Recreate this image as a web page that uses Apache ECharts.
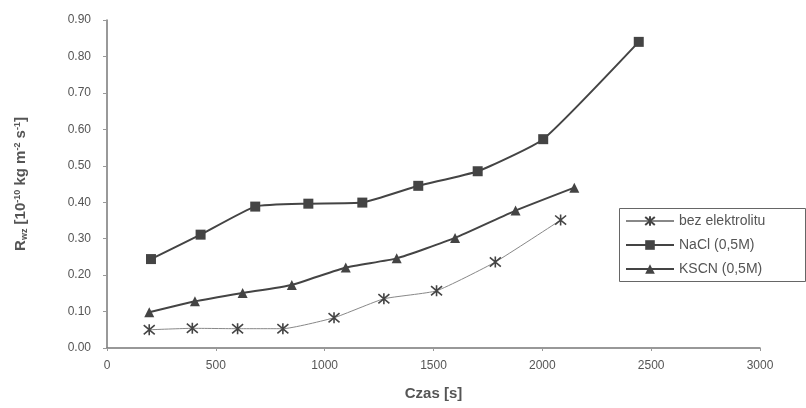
<!DOCTYPE html>
<html>
<head>
<meta charset="utf-8">
<script src="https://cdn.jsdelivr.net/npm/echarts@6/dist/echarts.min.js"></script>
<style>
  html, body { margin: 0; padding: 0; background: #fff; }
  #chart { width: 806px; height: 408px; }
</style>
</head>
<body>
<div id="chart"></div>
<script>
// dane: czas [s] i szybkość
var bezX = [194, 392, 600, 808, 1043, 1272, 1514, 1784, 2084];
var bezY = [0.050, 0.054, 0.053, 0.053, 0.083, 0.135, 0.157, 0.236, 0.351];

var naclX = [202, 430, 681, 925, 1173, 1430, 1703, 2004, 2443];
var naclY = [0.244, 0.311, 0.388, 0.396, 0.399, 0.445, 0.485, 0.573, 0.840];

var kscnX = [194, 404, 623, 849, 1097, 1331, 1599, 1877, 2147];
var kscnY = [0.098, 0.128, 0.151, 0.173, 0.221, 0.246, 0.302, 0.377, 0.440];

var seriesNames = ["bez elektrolitu", "NaCl (0,5M)", "KSCN (0,5M)"];

function pairs(xs, ys) {
  return xs.map(function (x, i) { return [x, ys[i]]; });
}

var txt = "#555";
var font = "'Liberation Sans', Arial, sans-serif";
// gwiazdka jak w Excelu
var asterisk = "path://M0,0 L10,10 M10,0 L0,10 M5,-1 L5,11";

var chart = echarts.init(document.getElementById("chart"));

var option = {
  backgroundColor: "#fff",
  animation: false,
  textStyle: { fontFamily: font },
  grid: { left: 107, right: 46, top: 20, bottom: 60 },
  graphic: [
    {
      type: "rect",
      shape: { x: 619.5, y: 208.5, width: 186, height: 73 },
      style: { fill: "#fff", stroke: "#666", lineWidth: 1 },
      z: 5,
    },
  ],
  legend: {
    orient: "vertical",
    left: 620,
    top: 209,
    itemWidth: 48,
    itemHeight: 12,
    itemGap: 10,
    z: 10,
    data: seriesNames,
    textStyle: { color: txt, fontSize: 14, fontFamily: font },
  },
  xAxis: {
    type: "value",
    min: 0,
    max: 3000,
    interval: 500,
    name: "Czas [s]",
    nameLocation: "middle",
    nameGap: 38,
    nameTextStyle: { color: txt, fontSize: 15, fontWeight: "bold" },
    axisLine: { lineStyle: { color: "#777", width: 1.5 } },
    axisTick: { length: 3, lineStyle: { color: "#999" } },
    axisLabel: {
      color: txt,
      fontSize: 12,
      margin: 12,
      formatter: function (v) { return String(v); },
    },
    splitLine: { show: false },
  },
  yAxis: {
    type: "value",
    min: 0,
    max: 0.9,
    interval: 0.1,
    name: "{b|R}{sub|wz}{b| [10}{sup|-10}{b| kg m}{sup|-2}{b| s}{sup|-1}{b|]}",
    nameLocation: "middle",
    nameRotate: 90,
    nameGap: 78,
    nameTextStyle: {
      rich: {
        b: { color: txt, fontSize: 15, fontWeight: "bold", fontFamily: font },
        sub: { color: txt, fontSize: 9, fontWeight: "bold", fontFamily: font, verticalAlign: "bottom", padding: [7, 0, 0, 0] },
        sup: { color: txt, fontSize: 9, fontWeight: "bold", fontFamily: font, verticalAlign: "top", padding: [0, 0, 7, 0] },
      },
    },
    axisLine: { show: true, lineStyle: { color: "#777", width: 1.5 } },
    axisTick: { show: true, length: 4, lineStyle: { color: "#999" } },
    axisLabel: {
      color: txt,
      fontSize: 12,
      margin: 16,
      formatter: function (v) { return v.toFixed(2); },
    },
    splitLine: { show: false },
  },
  series: [
    {
      name: seriesNames[0],
      type: "line",
      data: pairs(bezX, bezY),
      symbol: asterisk,
      symbolSize: 11,
      smooth: 0.15,
      lineStyle: { color: "#888", width: 1 },
      itemStyle: { color: "rgba(0,0,0,0)", borderColor: "#444", borderWidth: 1.6 },
    },
    {
      name: seriesNames[1],
      type: "line",
      data: pairs(naclX, naclY),
      symbol: "rect",
      symbolSize: 10,
      smooth: 0.15,
      lineStyle: { color: "#444", width: 2 },
      itemStyle: { color: "#444" },
    },
    {
      name: seriesNames[2],
      type: "line",
      data: pairs(kscnX, kscnY),
      symbol: "triangle",
      symbolSize: 10,
      smooth: 0.15,
      lineStyle: { color: "#444", width: 2 },
      itemStyle: { color: "#444" },
    },
  ],
};

chart.setOption(option);
</script>
</body>
</html>
